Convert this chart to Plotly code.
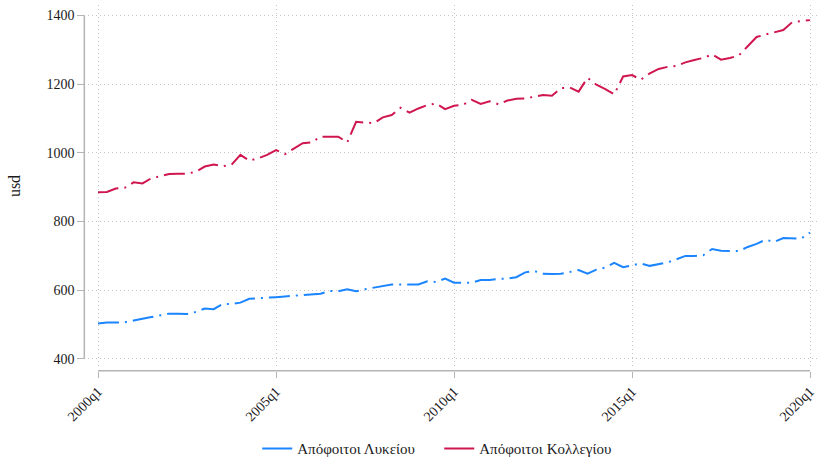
import plotly.graph_objects as go

# quarterly wages, 2000q1 .. 2020q1
quarters = [f"{y}q{q}" for y in range(2000, 2021) for q in range(1, 5)][:81]

high_school = [
    503, 506, 506, 507, 512, 518, 522, 527, 532, 532,
    531, 537, 547, 545, 560, 560, 564, 575, 576, 578,
    580, 582, 584, 587, 589, 590, 598, 597, 603, 597,
    603, 608, 612, 617, 617, 616, 617, 626, 624, 634,
    622, 622, 622, 630, 630, 633, 634, 638, 652, 656,
    648, 647, 648, 653, 659, 648, 660, 666, 680, 667,
    672, 678, 671, 676, 681, 690, 700, 700, 702, 720,
    715, 714, 714, 726, 735, 747, 741, 752, 752, 750,
    768,
]

college = [
    885, 886, 896, 898, 914, 911, 926, 931, 938, 939,
    939, 945, 960, 966, 961, 965, 994, 977, 984, 994,
    1008, 996, 1013, 1028, 1030, 1047, 1047, 1047, 1030, 1090,
    1088, 1086, 1103, 1110, 1131, 1117, 1129, 1139, 1143, 1127,
    1137, 1139, 1154, 1142, 1150, 1141, 1152, 1157, 1158, 1163,
    1168, 1166, 1188, 1190, 1178, 1218, 1198, 1185, 1170, 1222,
    1226, 1213, 1231, 1244, 1250, 1253, 1263, 1270, 1276, 1286,
    1271, 1276, 1283, 1310, 1337, 1344, 1350, 1357, 1380, 1384,
    1386,
]

series_names = ["Απόφοιτοι Λυκείου", "Απόφοιτοι Κολλεγίου"]
x_ticks = ["2000q1", "2005q1", "2010q1", "2015q1", "2020q1"]
y_ticks = [400, 600, 800, 1000, 1200, 1400]

colors = ["#1a85ff", "#d0164f"]
font = "'Liberation Serif', serif"
axis_gray = "#b4b4b4"

fig = go.Figure()

for name, values, color in zip(series_names, [high_school, college], colors):
    fig.add_trace(
        go.Scatter(
            x=quarters,
            y=values,
            mode="lines",
            line=dict(color=color, width=2, dash="21px,6px,2px,6px"),
            showlegend=False,
            hoverinfo="x+y",
        )
    )
    # legend shows a solid sample, like the original
    fig.add_trace(
        go.Scatter(
            x=[None],
            y=[None],
            mode="lines",
            name=name,
            line=dict(color=color, width=2),
        )
    )

# axis lines span only the tick range, offset from the plot region
fig.add_shape(
    type="line", xref="x", yref="paper",
    x0=0, x1=len(quarters) - 1, y0=0.1906, y1=0.1906,
    line=dict(color=axis_gray, width=1.5),
)
fig.add_shape(
    type="line", xref="paper", yref="y",
    x0=0.1027, x1=0.1027, y0=y_ticks[0], y1=y_ticks[-1],
    line=dict(color=axis_gray, width=1.5),
)

fig.update_layout(
    width=821,
    height=458,
    margin=dict(l=0, r=0, t=0, b=0, autoexpand=False),
    plot_bgcolor="white",
    paper_bgcolor="white",
    font=dict(family=font, size=14, color="#1a1a1a"),
    legend=dict(
        orientation="h",
        x=0.535,
        xanchor="center",
        y=0.02,
        yanchor="middle",
        font=dict(size=15),
        itemwidth=30,
        entrywidth=137,
    ),
    xaxis=dict(
        type="category",
        domain=[88 / 821, 820 / 821],
        range=[-1.124, 81.124],
        anchor="free",
        position=0.1906,
        tickvals=x_ticks,
        ticktext=x_ticks,
        tickangle=-45,
        ticks="outside",
        ticklen=6,
        tickcolor=axis_gray,
        showline=False,
        zeroline=False,
        showgrid=True,
        gridcolor="#c4c4c4",
        griddash="1px,3px",
        automargin=False,
    ),
    yaxis=dict(
        domain=[1 - 367 / 458, 1 - 5 / 458],
        range=[376.7, 1430],
        anchor="free",
        position=0.1027,
        tickvals=y_ticks,
        ticks="outside",
        ticklen=7,
        tickcolor=axis_gray,
        showline=False,
        zeroline=False,
        showgrid=True,
        gridcolor="#c4c4c4",
        griddash="1px,3px",
        title=dict(text="usd", font=dict(size=16), standoff=20),
        automargin=False,
    ),
)

fig.write_html(
    "out.html",
    config={"displayModeBar": False},
    post_script="document.body.style.margin = '0';",
)
